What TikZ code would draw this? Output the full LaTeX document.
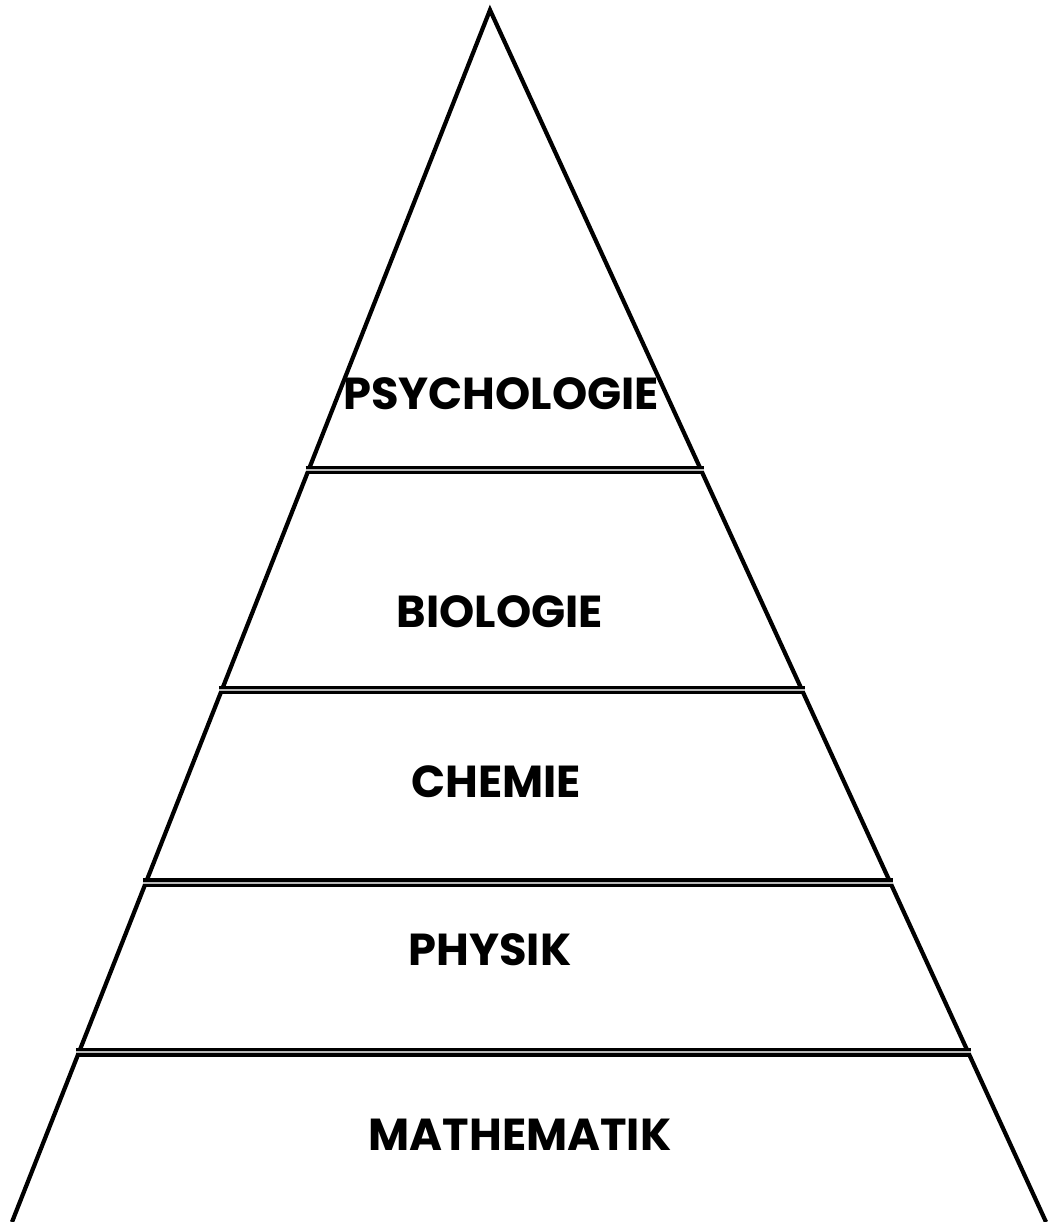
\documentclass[tikz,border=0pt]{standalone}
\usepackage{fontspec}
\setmainfont{Poppins}
\usetikzlibrary{calc}

\begin{document}
\begin{tikzpicture}[x=0.02cm, y=-0.02cm,
  side/.style={line width=2.4pt, line join=miter},
  divider/.style={line width=1.9pt, double=gray!55, double distance=1.2pt},
  layer/.style={font=\fontsize{25.5}{30}\selectfont\bfseries}]

\useasboundingbox (0,0) rectangle (1050,1222);

\coordinate (apex) at (490,10);
\coordinate (bl) at (12,1222);
\coordinate (br) at (1046,1222);

\draw[side] (bl) -- (apex) -- (br);

% layer borders
\foreach \t/\n in {0.3795/psy, 0.561/bio, 0.720/che, 0.860/phy} {
  \coordinate (\n l) at ($(apex)!\t!(bl)$);
  \coordinate (\n r) at ($(apex)!\t!(br)$);
  \draw[divider] ($(\n l)+(-3,0)$) -- ($(\n r)+(3,0)$);
}

\node[layer] (psych) at (501,394) {PSYCHOLOGIE};
\node[layer] (biol) at (500,612) {BIOLOGIE};
\node[layer] (chem) at (496,782) {CHEMIE};
\node[layer] (phys) at (490,950) {PHYSIK};
\node[layer] (math) at (520,1135) {MATHEMATIK};

\end{tikzpicture}
\end{document}
